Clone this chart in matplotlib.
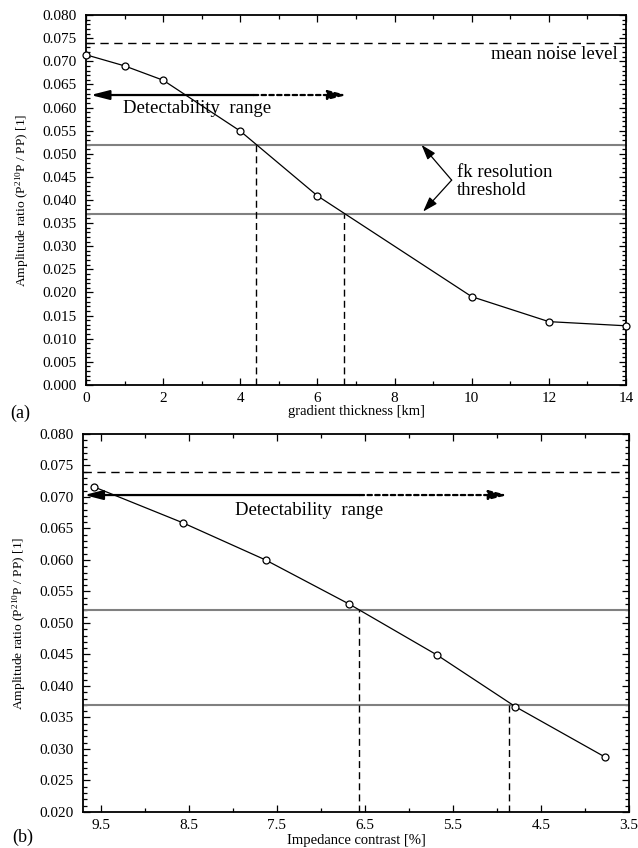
import matplotlib
matplotlib.use("Agg")
import matplotlib.pyplot as plt
from matplotlib.ticker import MultipleLocator, FixedLocator, FormatStrFormatter

plt.rcParams['font.family'] = ['Liberation Serif', 'DejaVu Serif']
plt.rcParams['mathtext.fontset'] = 'custom'
plt.rcParams['mathtext.rm'] = 'Liberation Serif'
plt.rcParams['mathtext.default'] = 'regular'

# panel (a): amplitude ratio vs gradient thickness
thickness_km = [0, 1, 2, 4, 6, 10, 12, 14]
ratio_a = [0.0714, 0.0690, 0.0659, 0.0549, 0.0409, 0.0191, 0.0137, 0.0128]

# panel (b): amplitude ratio vs impedance contrast
contrast_pct = [9.58, 8.57, 7.63, 6.68, 5.68, 4.79, 3.77]
ratio_b = [0.0716, 0.0659, 0.0600, 0.0530, 0.0449, 0.0367, 0.0287]
contrast_ticks = [9.5, 8.5, 7.5, 6.5, 5.5, 4.5, 3.5]
contrast_minor = [9.0, 8.0, 7.0, 6.0, 5.0, 4.0]

noise_level = 0.074
fk_thresholds = [0.052, 0.037]
cross_a = [4.4, 6.7]      # thickness where curve meets the thresholds
cross_b = [6.57, 4.86]    # contrast where curve meets the thresholds

ylabel = 'Amplitude ratio (P$^{210}$P / PP) [1]'


def style_axes(ax):
    ax.tick_params(which='both', direction='in', top=True, right=True,
                   labelsize=11, width=0.9)
    ax.tick_params(axis='x', pad=5)
    ax.tick_params(axis='y', pad=7)
    ax.tick_params(which='major', length=5)
    ax.tick_params(which='minor', length=3)
    for sp in ax.spines.values():
        sp.set_linewidth(1.3)
    ax.yaxis.set_major_locator(MultipleLocator(0.005))
    ax.yaxis.set_minor_locator(MultipleLocator(0.001))
    ax.yaxis.set_major_formatter(FormatStrFormatter('%.3f'))
    ax.set_ylabel(ylabel, fontsize=9.7, labelpad=8)


def ref_lines(ax, crossings, ybottom):
    ax.axhline(noise_level, color='black', lw=1.0, ls=(0, (6, 4)), zorder=2)
    for thr in fk_thresholds:
        ax.axhline(thr, color='#808080', lw=1.5, zorder=2)
    for x, thr in zip(crossings, fk_thresholds):
        ax.plot([x, x], [ybottom, thr], color='black', lw=1.0,
                ls=(0, (5, 3)), zorder=2)


def range_arrow(ax, y, x_tip, x_mid, x_end):
    head = dict(arrowstyle='-|>,head_length=1.1,head_width=0.28',
                color='black', lw=1.6, mutation_scale=10,
                shrinkA=0, shrinkB=0)
    ax.annotate('', xy=(x_tip, y), xytext=(x_mid, y), arrowprops=head)
    dotted = dict(head, ls=(0, (2, 1.5)))
    ax.annotate('', xy=(x_end, y), xytext=(x_mid, y), arrowprops=dotted)


fig = plt.figure(figsize=(6.38, 8.48), dpi=100)
ax1 = fig.add_axes([0.1348, 0.546, 0.8464, 0.4363])
ax2 = fig.add_axes([0.1306, 0.0425, 0.8553, 0.4458])

# ---- (a)
ref_lines(ax1, cross_a, 0.0)
ax1.plot(thickness_km, ratio_a, color='black', lw=0.9, marker='o', ms=5,
         mfc='white', mec='black', mew=0.9, zorder=4, clip_on=False)
ax1.set_xlim(0, 14)
ax1.set_ylim(0, 0.08)
ax1.xaxis.set_major_locator(MultipleLocator(2))
ax1.xaxis.set_minor_locator(MultipleLocator(1))
style_axes(ax1)
ax1.set_xlabel('gradient thickness [km]', fontsize=10.5, labelpad=0)

range_arrow(ax1, 0.0627, 0.12, 4.35, 6.76)
ax1.text(0.96, 0.0588, 'Detectability  range', fontsize=13.5)
ax1.text(13.79, 0.0705, 'mean noise level', fontsize=13.5, ha='right')
ax1.text(9.62, 0.0450, 'fk resolution', fontsize=13.5)
ax1.text(9.62, 0.0411, 'threshold', fontsize=13.5)
fk_arrow = dict(arrowstyle='-|>,head_length=0.9,head_width=0.3',
                color='black', lw=0.9, mutation_scale=10,
                shrinkA=0, shrinkB=0)
ax1.annotate('', xy=(8.70, 0.0519), xytext=(9.48, 0.0443), arrowprops=fk_arrow)
ax1.annotate('', xy=(8.74, 0.0375), xytext=(9.48, 0.0443), arrowprops=fk_arrow)

# ---- (b)
ref_lines(ax2, cross_b, 0.02)
ax2.plot(contrast_pct, ratio_b, color='black', lw=0.9, marker='o', ms=5,
         mfc='white', mec='black', mew=0.9, zorder=4)
ax2.set_xlim(9.7, 3.5)
ax2.set_ylim(0.02, 0.08)
ax2.xaxis.set_major_locator(FixedLocator(contrast_ticks))
ax2.xaxis.set_minor_locator(FixedLocator(contrast_minor))
ax2.xaxis.set_major_formatter(FormatStrFormatter('%.1f'))
style_axes(ax2)
ax2.set_xlabel('Impedance contrast [%]', fontsize=10.5, labelpad=1.5)

range_arrow(ax2, 0.0703, 9.69, 6.56, 4.88)
ax2.text(7.98, 0.0671, 'Detectability  range', fontsize=13.5)

fig.text(0.031, 0.512, '(a)', fontsize=13, ha='center', va='center')
fig.text(0.036, 0.012, '(b)', fontsize=13, ha='center', va='center')

fig.savefig('out.png', dpi=100)
